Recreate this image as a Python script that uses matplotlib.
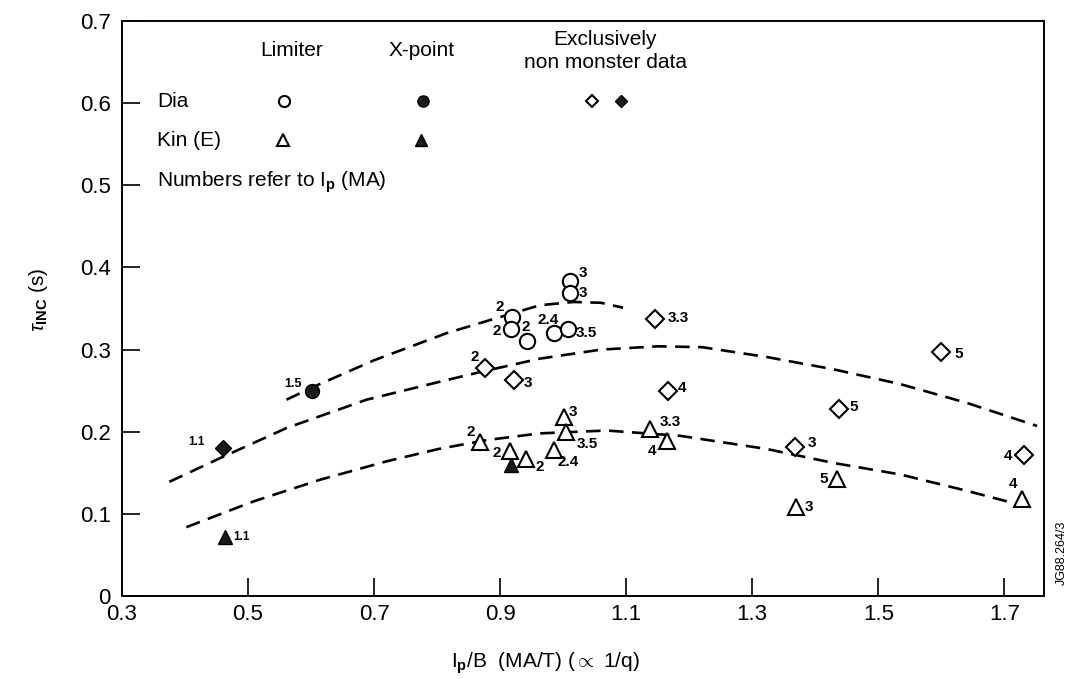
import matplotlib.pyplot as plt

plt.rcParams['font.family'] = ['Liberation Sans', 'DejaVu Sans']
plt.rcParams['mathtext.fontset'] = 'custom'
plt.rcParams['mathtext.rm'] = 'Liberation Sans'
plt.rcParams['mathtext.bf'] = 'Liberation Sans:bold'
plt.rcParams['mathtext.it'] = 'Liberation Sans:italic'

# limiter, diamagnetic (open circles)
lim_dia_x = [1.011, 1.011, 0.919, 0.917, 0.943, 0.985, 1.007]
lim_dia_y = [0.383, 0.369, 0.340, 0.325, 0.311, 0.320, 0.325]
lim_dia_lab = ['3', '3', '2', '2', '2', '2.4', '3.5']

# limiter, kinetic (open triangles)
lim_kin_x = [0.868, 0.916, 0.941, 0.985, 1.002, 1.005, 1.138, 1.164, 1.434, 1.370, 1.728]
lim_kin_y = [0.187, 0.177, 0.167, 0.178, 0.218, 0.1995, 0.2036, 0.189, 0.1425, 0.1087, 0.118]
lim_kin_lab = ['2', '2', '2', '2.4', '3', '3.5', '3.3', '4', '5', '3', '4']

# x-point points
xp_dia_x = [0.602]
xp_dia_y = [0.250]
xp_dia_lab = ['1.5']
xp_kin_x = [0.918, 0.463]
xp_kin_y = [0.159, 0.072]
xp_kin_lab = ['', '1.1']

# exclusively non monster data (diamonds)
nm_x = [0.876, 0.922, 1.146, 1.167, 1.600, 1.437, 1.368, 1.731]
nm_y = [0.278, 0.2626, 0.337, 0.250, 0.297, 0.228, 0.182, 0.172]
nm_lab = ['2', '3', '3.3', '4', '5', '5', '3', '4']
nm_xp_x = [0.461]
nm_xp_y = [0.180]
nm_xp_lab = ['1.1']

# fitted trend lines
fit_lim_x = [0.561, 0.602, 0.70, 0.815, 0.884, 0.963, 1.016, 1.06, 1.095]
fit_lim_y = [0.239, 0.254, 0.287, 0.320, 0.336, 0.354, 0.358, 0.357, 0.351]
fit_dia_x = [0.375, 0.456, 0.561, 0.688, 0.821, 0.876, 0.963, 1.06, 1.15, 1.22,
             1.323, 1.429, 1.535, 1.641, 1.752]
fit_dia_y = [0.139, 0.168, 0.2045, 0.239, 0.264, 0.274, 0.289, 0.300, 0.304, 0.303,
             0.291, 0.276, 0.258, 0.235, 0.207]
fit_kin_x = [0.402, 0.508, 0.614, 0.720, 0.802, 0.88, 0.963, 1.069, 1.186, 1.323,
             1.429, 1.535, 1.641, 1.72]
fit_kin_y = [0.0838, 0.115, 0.1415, 0.164, 0.179, 0.190, 0.198, 0.2015, 0.195, 0.179,
             0.162, 0.148, 0.128, 0.112]

x_ticks = [0.3, 0.5, 0.7, 0.9, 1.1, 1.3, 1.5, 1.7]
y_ticks = [0, 0.1, 0.2, 0.3, 0.4, 0.5, 0.6, 0.7]
y_tick_labels = ['0', '0.1', '0.2', '0.3', '0.4', '0.5', '0.6', '0.7']

# label offsets in pixels from marker centre
lim_dia_off = [(13, 8), (13, 0), (-12, 10), (-14, -2), (-1, 14), (-6, 13), (19, -4)]
lim_kin_off = [(-9, 10), (-13, -2), (14, -8), (14, -12), (9, 5), (21, -12),
               (20, 7), (-15, -10), (-13, 0), (13, 0), (-9, 15)]
xp_dia_off = [(-19, 7)]
xp_kin_off = [(0, 0), (17, 0)]
nm_off = [(-10, 11), (14, -3), (23, 1), (14, 3), (17, -2), (15, 2), (17, 4), (-16, -1)]
nm_xp_off = [(-27, 6)]

fig = plt.figure(figsize=(10.73, 6.79), dpi=100)
ax = fig.add_axes([0.1137, 0.1222, 0.8593, 0.8468])

dash = dict(color='black', lw=1.9, dashes=(5.5, 3.2))
ax.plot(fit_lim_x, fit_lim_y, **dash)
ax.plot(fit_dia_x, fit_dia_y, **dash)
ax.plot(fit_kin_x, fit_kin_y, **dash)

open_style = dict(ls='none', mfc='white', mec='black', mew=1.5)
fill_style = dict(ls='none', mfc='#1a1a1a', mec='black', mew=1.0)
ax.plot(lim_dia_x, lim_dia_y, 'o', ms=11, **open_style)
ax.plot(lim_kin_x, lim_kin_y, '^', ms=12, **open_style)
ax.plot(nm_x, nm_y, 'D', ms=9, **open_style)
ax.plot(xp_dia_x, xp_dia_y, 'o', ms=10, **fill_style)
ax.plot(xp_kin_x, xp_kin_y, '^', ms=10, **fill_style)
ax.plot(nm_xp_x, nm_xp_y, 'D', ms=8, **fill_style)


def tag(xs, ys, labs, offs, size=11):
    for x, y, s, (dx, dy) in zip(xs, ys, labs, offs):
        if s:
            ax.annotate(s, (x, y), xytext=(dx, dy), textcoords='offset pixels',
                        ha='center', va='center', fontsize=size, fontweight='bold')


tag(lim_dia_x, lim_dia_y, lim_dia_lab, lim_dia_off)
tag(lim_kin_x, lim_kin_y, lim_kin_lab, lim_kin_off)
tag(nm_x, nm_y, nm_lab, nm_off)
tag(xp_dia_x, xp_dia_y, xp_dia_lab, xp_dia_off, size=9)
tag(xp_kin_x, xp_kin_y, xp_kin_lab, xp_kin_off, size=8.5)
tag(nm_xp_x, nm_xp_y, nm_xp_lab, nm_xp_off, size=8.5)

# key drawn inside the frame
tr = ax.transAxes
def ax_xy(px, py):
    return ((px - 122) / 922, (596 - py) / 575)

head = dict(transform=tr, ha='center', va='center', fontsize=15)
ax.text(*ax_xy(292, 50), 'Limiter', **head)
ax.text(*ax_xy(422, 50), 'X-point', **head)
ax.text(*ax_xy(605, 39), 'Exclusively', **head)
ax.text(*ax_xy(605, 62), 'non monster data', **head)
row = dict(transform=tr, ha='left', va='center', fontsize=15)
ax.text(*ax_xy(157, 101), 'Dia', **row)
ax.text(*ax_xy(157, 140), 'Kin (E)', **row)
ax.text(*ax_xy(157, 182), r'Numbers refer to I$_\mathbf{p}$ (MA)', **row)
ax.plot(*ax_xy(284, 101), 'o', ms=8, transform=tr, **open_style)
ax.plot(*ax_xy(423, 101), 'o', ms=8, transform=tr, **fill_style)
ax.plot(*ax_xy(592, 101), 'D', ms=6.5, transform=tr, **open_style)
ax.plot(*ax_xy(621, 101), 'D', ms=6.5, transform=tr, **fill_style)
ax.plot(*ax_xy(283, 140), '^', ms=8, transform=tr, **open_style)
ax.plot(*ax_xy(421, 140), '^', ms=8, transform=tr, **fill_style)

ax.set_xlim(0.3, 1.763)
ax.set_ylim(0, 0.7)
ax.set_xticks(x_ticks)
ax.set_xticklabels([f'{v:.1f}' for v in x_ticks])
ax.set_yticks(y_ticks)
ax.set_yticklabels(y_tick_labels)
ax.tick_params(direction='in', length=13, width=1.2, labelsize=16, pad=6)
ax.tick_params(axis='y', pad=8)
for sp in ax.spines.values():
    sp.set_linewidth(1.4)

ax.set_xlabel(r'I$_\mathbf{p}$/B  (MA/T) ($\propto$ 1/q)', fontsize=15)
ax.xaxis.set_label_coords(0.459, -0.095)
ax.set_ylabel(r'$\tau_\mathbf{INC}$ (s)', fontsize=15)
ax.yaxis.set_label_coords(-0.078, 0.515)

fig.text(1062 / 1073, 1 - 553 / 679, 'JG88.264/3', rotation=90, ha='center',
         va='center', fontsize=9)

fig.savefig('out.png', dpi=100)
